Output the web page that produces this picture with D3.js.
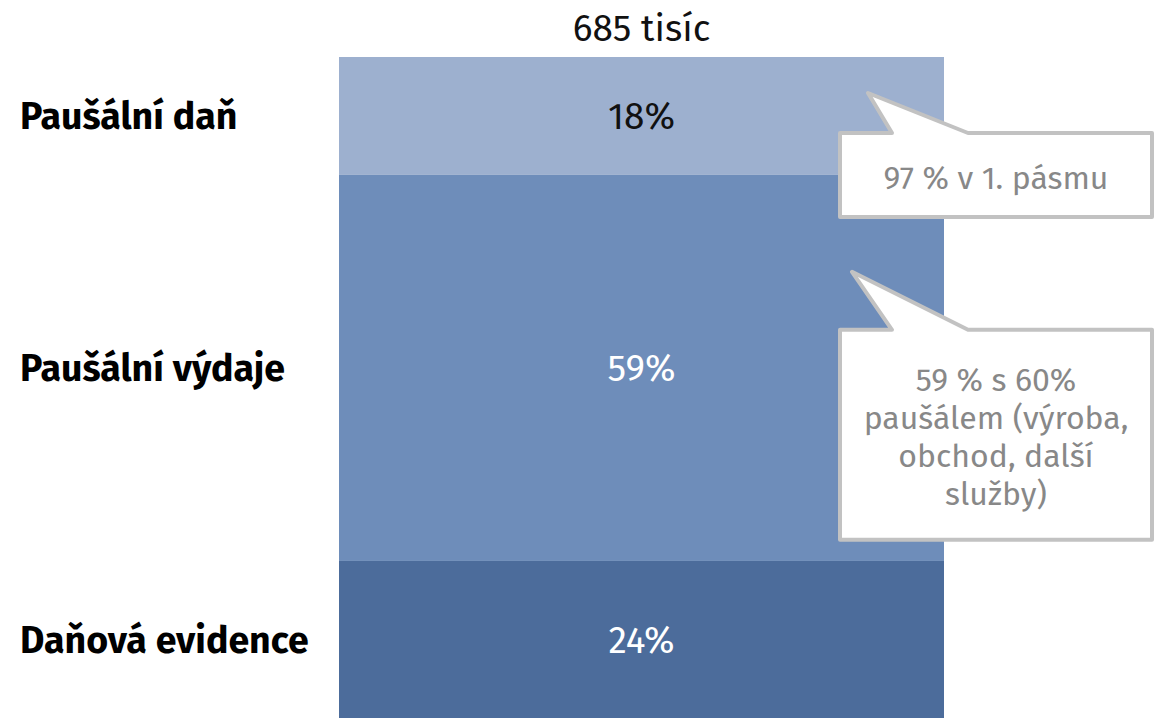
<!DOCTYPE html>
<html>
<head>
<meta charset="utf-8">
<script src="https://cdn.jsdelivr.net/npm/d3@7"></script>
<style>
  html, body { margin: 0; padding: 0; background: #fff; }
  svg { display: block; font-family: "Fira Sans", "Open Sans", "Noto Sans", sans-serif; }
</style>
</head>
<body>
<svg id="chart" width="1169" height="718"></svg>
<script>
// Režimy zdanění OSVČ – podíl ze 685 tisíc
const total = "685 tisíc";
const categories = ["Paušální daň", "Paušální výdaje", "Daňová evidence"];
const shares = [18, 59, 24];
const shareLabels = ["18%", "59%", "24%"];
const callouts = [
  ["97 % v 1. pásmu"],
  ["59 % s 60%", "paušálem (výroba,", "obchod, další", "služby)"],
  null
];

const fills = ["#9db0cf", "#6e8dba", "#4c6c9b"];
const labelColors = ["#111", "#fff", "#fff"];

const W = 1169, H = 718;
const svg = d3.select("#chart");

const barX0 = 339, barX1 = 944, barTop = 57, barBottom = 718;

// cumulative stacking
const stacked = [];
let acc = 0;
shares.forEach((v, i) => { stacked.push({ i, v, y0: acc, y1: acc + v }); acc += v; });

const y = d3.scaleLinear().domain([0, acc]).range([barTop, barBottom]);
const x = d3.scaleLinear().domain([0, 1]).range([barX0, barX1]);

svg.append("text")
  .attr("x", x(0.5)).attr("y", 41)
  .attr("text-anchor", "middle")
  .attr("font-size", 37)
  .attr("fill", "#111")
  .text(total);

const seg = svg.append("g").selectAll("g").data(stacked).join("g");

seg.append("rect")
  .attr("x", x(0)).attr("width", x(1) - x(0))
  .attr("y", d => y(d.y0))
  .attr("height", d => y(d.y1) - y(d.y0))
  .attr("fill", d => fills[d.i]);

seg.append("text")
  .attr("x", x(0.5))
  .attr("y", d => (y(d.y0) + y(d.y1)) / 2)
  .attr("dy", "0.36em")
  .attr("text-anchor", "middle")
  .attr("font-size", 37)
  .attr("fill", d => labelColors[d.i])
  .text(d => shareLabels[d.i]);

seg.append("text")
  .attr("x", 20)
  .attr("y", d => (y(d.y0) + y(d.y1)) / 2)
  .attr("dy", "0.36em")
  .attr("font-size", 37.5)
  .attr("font-weight", "bold")
  .attr("fill", "#000")
  .text(d => categories[d.i]);

// speech-bubble callouts
const bubbleLayout = [
  { tipY: 36, top: 76, bottom: 160, tipX: 868 },
  { tipY: 97, top: 155, bottom: 365, tipX: 852 }
];
const bx0 = 840, bx1 = 1152, baseL = 892, baseR = 968;

stacked.forEach(d => {
  const lines = callouts[d.i];
  if (!lines) return;
  const L = bubbleLayout[d.i];
  const s = y(d.y0);
  const top = s + L.top, bottom = s + L.bottom, tipY = s + L.tipY;
  const path = d3.path();
  path.moveTo(bx0, top);
  path.lineTo(baseL, top);
  path.lineTo(L.tipX, tipY);
  path.lineTo(baseR, top);
  path.lineTo(bx1, top);
  path.lineTo(bx1, bottom);
  path.lineTo(bx0, bottom);
  path.closePath();
  const g = svg.append("g");
  g.append("path")
    .attr("d", path.toString())
    .attr("fill", "#fff")
    .attr("stroke", "#c2c2c2")
    .attr("stroke-width", 4)
    .attr("stroke-linejoin", "round");
  const lh = 38;
  const cy = (top + bottom) / 2 + 2;
  const t = g.append("text")
    .attr("text-anchor", "middle")
    .attr("font-size", 32)
    .attr("fill", "#888");
  lines.forEach((ln, k) => {
    t.append("tspan")
      .attr("x", (bx0 + bx1) / 2)
      .attr("y", cy + (k - (lines.length - 1) / 2) * lh)
      .attr("dy", "0.36em")
      .text(ln);
  });
});
</script>
</body>
</html>
